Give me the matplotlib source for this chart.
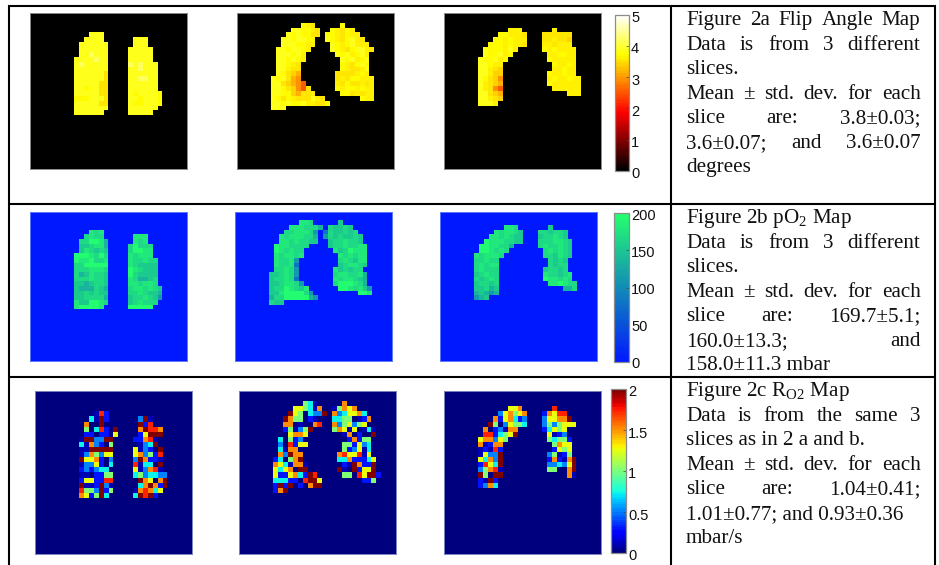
import numpy as np
import matplotlib
matplotlib.use("Agg")
import matplotlib.pyplot as plt
from matplotlib.colors import LinearSegmentedColormap, Normalize
from matplotlib.cm import ScalarMappable
from matplotlib.transforms import ScaledTranslation

plt.rcParams['mathtext.fontset'] = 'custom'
plt.rcParams['mathtext.rm'] = 'Liberation Serif'

# ---------- value codes for each kind of map ----------
FLIP_CODES = {'.': 0, 'w': 4.15, 'Y': 3.9, 'y': 3.72, 'u': 3.62, 's': 3.52, 't': 3.42, 'p': 3.2, 'q': 2.9, 'r': 2.5}
PO2_CODES = {'.': 0, 'h': 195, 'g': 180, 'f': 168, 'e': 155, 'd': 135, 'c': 110, 'b': 80, 'a': 45}
RO2_CODES = {'.': 0, 'd': 0.12, 'b': 0.3, 'a': 0.5, 'c': 0.72, 'g': 1.0, 'y': 1.28, 'o': 1.5, 'r': 1.72, 'm': 1.97}

# ---------- Figure 2a: flip angle maps (rows from top, starting at row 0) ----------
FLIP_1 = ["", "", "", "",
"............YYY",
"...........YYYY......YYY",
"..........YYYYYY.....YYY",
"..........YYYYYY....YYYYY",
"..........YYwYYY....YYYYY",
".........YYYYwYY....YYYYY",
".........YwYYYYY....wYwYYY",
".........YYYYYYY....YYwYYY",
".........YYYYYYs....YYYYYY",
".........YYYYYYs....YYwwYY",
".........YYYYYss....YYYYYY",
".........YYyYYss....YYYYYY",
".........YYYYYss....YyYYYYy",
".........yyyYYYs....YYyYYYy",
".........YYYYYss....YyyYYYy",
".........YYYYYYY....YYYYYY",
".........YYYYYY.....YYYYY"]

FLIP_2 = ["", "",
".............yus.....y",
"...........YYyyus..yusyu",
"..........YyYyyss.yyusyuu",
".........YYyYYyy..YyusyYus",
".........YYYyyuu...YyuyYuuu",
"........YYyYYyu....YyusyYYus",
"........YYYyYu......YyYuyYu",
"........YYyYyu.......YyYuyY",
"........YYyus........yusyYy",
"........YYuss........yussuY",
"........Yystp.......ssssuyu",
".......YyYspq.......susyyuuu",
".......YYstpqr......usyssusu",
".......YYystqrs.....yuyyuyuu",
".......YYyytpssu.....yysusuu",
".......YysyusssYus.......yuu",
".......YYyYyyYuussy",
".......YYY"]

FLIP_3 = ["", "", "",
".............uuu......u",
"...........yyuuus...ssssss",
"..........yyuyuuu...ssusst",
".........yyyuyuus...uusuuu",
"........YyyyuYu.....yuyuuuu",
"........YyyYuy.......uuyyuu",
".......YyyYuy........yuuuuu",
".......YYyuu..........yuuyu",
".......YYust..........uuyuu",
".......YYutt.........yuuyuu",
".......Yystq.........uyuuyuu",
".......Yustp.........yuuuuuu",
".......Yusqr..........uuuuuu",
".......YYstp.............uuu",
".......YYust",
".......YYYu"]

# ---------- Figure 2b: pO2 maps ----------
PO2_1 = ["", "", "", "",
"............gfg",
"...........fgff......ggg",
"..........ffhhgd.....gfg",
"..........eefggd....fhfff",
"..........egfefe....fhhgg",
".........hhhgfhf....gfggg",
".........hgghffg....gffgff",
".........ffhhhhh....gfeeee",
".........fffgggf....hgfeee",
".........fdegffe....hfeeee",
".........fffgffe....gfddef",
".........eedeffe....ggfggf",
".........edddfed....fggfgfe",
".........eefefee....ffgfeed",
".........eeffffd....effgfec",
".........geehhgf....efgfff",
".........ghhhhg.....hhhhh"]

PO2_2 = ["", "",
".............ggf.....e",
"...........gggfffd.feefe",
"..........ffgggfc.bfeefef",
".........gfgggffd.cfefeefe",
".........ggfgffee..effgffe",
"........hggffff....effgffgg",
"........hgfgff......gefhggg",
"........gfggfg.......gfgfgg",
"........gffgc........fgfegg",
"........gffgb........efggfe",
"........ffgfc.......gefeff",
".......eefgfc.......fggffgd",
".......effgfb.......gfggfed",
".......eefggfc......fhhhgfd",
".......effhgfeg......hhgfgec",
".......eeghhhhfc.........hhg",
".......dffhhhhhdc",
".......fee"]

PO2_3 = ["", "", "",
".............ggf......e",
"...........gfggfe...ffeffe",
"..........ggfgfee...effgfe",
".........hgggffee...fffggfe",
"........hhggffd.....fgffgfe",
"........hhgfgf.......fgfgfe",
".......gfgggf........ffegfe",
".......ffgff..........fefe",
".......fgfgg..........feff",
".......fgfff.........effef",
".......efgff.........gffefg",
".......fefgf.........hggfgf",
".......effef..........gghgff",
".......eefde.............ddf",
".......dedcd",
".......cde"]

# ---------- Figure 2c: RO2 maps ----------
RO2_1 = ["", "", "", "",
"............drb",
"...........cdmb......amd",
"..........o..m.......mbr",
"..........g.crb.m....omrro",
"..........bb.bb.y....bymmm",
".........dmmaamm....bbord",
".........cdoab.g.....dacm",
".........ddmmmmm....ydab.m",
".........daogayy....yoagbr",
".........myyob.a....amobbd",
".........daayb.c....rdcc.m",
".........babacc.....ydaord",
".........dd.bbgg....cgaccaa",
".........byybbrr.....moy.om",
".........mddbmad.....comobm",
".........rggambg....dorocy",
".........oybgmc.....cmrmb"]

RO2_2 = ["", "",
".............gcd.....o",
"...........yygcdo..dgoyo",
"..........myg.caam.oacyyoc",
".........mogg.bd...ccgg.dbo",
".........oo.d..or..oagyagy",
".........bgdagm....goydy.dcd",
"..........yooy.......do.b..m",
"........c.gba.........bobgg",
"........a.rbyy.......ggbyac",
"........cdoo.........gbaydc",
"........oamoo.......oryyrdy",
".......bc.gom.......ccobbbcy",
".......oycdood.......bdmobbm",
".......ycyo.mm......md.mbyym",
".......ybbyocbmr.....gg.rymmb",
".......cccbb.rmmy........bbg",
".......bmbm.b.omm",
".......bom"]

RO2_3 = ["", "", "",
".............yyo......r",
"...........ayogyo...boyrr",
"..........obyocba...ayyoom",
".........mg.ayggc...agagyyy",
"........o.badoo.....bcygy",
"........rrbcgym......ydba",
".......yooayg........gcggb",
".......odboo..........goyy",
".......dbdrb..........bygy",
".......dyaam.........agdbg",
".......ycoam.........bobdom",
".......brycm.........aacaym",
".......agord.........gg..om",
".......mg.mm.............od",
".......bdmb",
".......baoc"]

# ---------- colour bars and caption text ----------
FLIP_TICKS = [0, 1, 2, 3, 4, 5]
PO2_TICKS = [0, 50, 100, 150, 200]
RO2_TICKS = [0, 0.5, 1, 1.5, 2]
RO2_TICK_LABELS = ['0', '0.5', '1', '1.5', '2']

CAPTION_A = [("Figure 2a Flip Angle Map", True), ("Data is from 3 different", True), ("slices.", False),
             ("Mean ± std. dev. for each", True), ("slice are: 3.8±0.03;", True),
             ("3.6±0.07; and 3.6±0.07", True), ("degrees", False)]
CAPTION_B = [(r"Figure 2b pO$_{2}$ Map", False), ("Data is from 3 different", True), ("slices.", False),
             ("Mean ± std. dev. for each", True), ("slice are: 169.7±5.1;", True),
             ("160.0±13.3; and", True), ("158.0±11.3 mbar", False)]
CAPTION_C = [(r"Figure 2c R$_{\mathrm{O2}}$ Map", False), ("Data is from the same 3", True),
             ("slices as in 2 a and b.", False), ("Mean ± std. dev. for each", True),
             ("slice are: 1.04±0.41;", True), ("1.01±0.77; and 0.93±0.36", False), ("mbar/s", False)]

W, H = 939, 565
fig = plt.figure(figsize=(W / 100, H / 100), dpi=100, facecolor='white')


def px_axes(x0, y0, x1, y1, **kw):
    return fig.add_axes([x0 / W, 1 - y1 / H, (x1 - x0) / W, (y1 - y0) / H], **kw)


def decode(rows, codes):
    out = np.zeros((32, 32))
    for i, row in enumerate(rows):
        for j, ch in enumerate(row.ljust(32, '.')[:32]):
            out[i, j] = codes.get(ch, 0)
    return out


winter_like = LinearSegmentedColormap.from_list('o2', ['#0018ff', '#24ff6e'], N=64)
hot_black = LinearSegmentedColormap.from_list(
    'hotk', [(0, '#000000'), (0.375, '#ff0000'), (0.75, '#ffff00'), (1, '#ffffff')], N=64)
jet64 = plt.get_cmap('jet', 64)

rows_cfg = [
    dict(slices=[FLIP_1, FLIP_2, FLIP_3], codes=FLIP_CODES, cmap=hot_black, vmax=5,
         xs=[30, 237, 444], y=(13, 169), edge='#8a8a8a', bar=(615, 629, 14.5, 171), ticks=FLIP_TICKS,
         labels=[str(t) for t in FLIP_TICKS], shift=-2),
    dict(slices=[PO2_1, PO2_2, PO2_3], codes=PO2_CODES, cmap=winter_like, vmax=200,
         xs=[29.5, 234.5, 439.5], y=(212, 361), edge='#5a78ff', bar=(614, 629, 213, 362), ticks=PO2_TICKS,
         labels=[str(t) for t in PO2_TICKS], shift=-1),
    dict(slices=[RO2_1, RO2_2, RO2_3], codes=RO2_CODES, cmap=jet64, vmax=2,
         xs=[34.5, 239, 444], y=(391, 553.5), edge='#7a86c0', bar=(611, 626, 389, 553), ticks=RO2_TICKS,
         labels=RO2_TICK_LABELS, shift=-2),
]

for cfg in rows_cfg:
    norm = Normalize(0, cfg['vmax'])
    for x0, rows in zip(cfg['xs'], cfg['slices']):
        ax = px_axes(x0, cfg['y'][0], x0 + 157, cfg['y'][1])
        ax.imshow(decode(rows, cfg['codes']), cmap=cfg['cmap'], norm=norm, aspect='auto', interpolation='nearest')
        ax.set_xticks([])
        ax.set_yticks([])
        for s in ax.spines.values():
            s.set_color(cfg['edge'])
            s.set_linewidth(0.7)
    bx0, bx1, by0, by1 = cfg['bar']
    cax = px_axes(bx0, by0, bx1, by1)
    cb = fig.colorbar(ScalarMappable(norm=norm, cmap=cfg['cmap']), cax=cax)
    cb.set_ticks(cfg['ticks'])
    cb.set_ticklabels(cfg['labels'])
    cb.outline.set_edgecolor('#8c8c8c')
    cb.outline.set_linewidth(0.9)
    cax.tick_params(axis='y', direction='in', length=2, width=0.5, color='#444444', pad=1.5,
                    labelsize=10.5, labelcolor='#111111')
    off = ScaledTranslation(0, cfg['shift'] / 100, fig.dpi_scale_trans)
    for t in cax.get_yticklabels():
        t.set_family('Liberation Sans')
        t.set_transform(t.get_transform() + off)

# overlay in pixel coordinates for the table rules and captions
ov = fig.add_axes([0, 0, 1, 1], facecolor='none')
ov.set_xlim(0, W)
ov.set_ylim(H, 0)
ov.axis('off')
rule = dict(color='black', lw=1.5, solid_capstyle='butt')
ov.plot([9, 9], [5, H], **rule)
ov.plot([934.5, 934.5], [5, H], **rule)
ov.plot([671, 671], [5, H], **rule)
for yy in (6, 204, 376.7):
    ov.plot([8, 935.5], [yy, yy], **rule)

FONT = dict(family='Liberation Serif', fontsize=15.2, color='#111111', va='baseline')
LEFT, RIGHT = 686, 920.5
renderer = fig.canvas.get_renderer()


def draw_caption(lines, base):
    for k, (line, just) in enumerate(lines):
        y = base + k * 24.55
        if not just:
            ov.text(LEFT, y, line, ha='left', **FONT)
            continue
        words = line.split(' ')
        items = [ov.text(LEFT, y, w, ha='left', **FONT) for w in words]
        widths = [t.get_window_extent(renderer).width for t in items]
        gap = (RIGHT - LEFT - sum(widths)) / (len(words) - 1)
        x = LEFT
        for t, w in zip(items, widths):
            t.set_x(x)
            x += w + gap


draw_caption(CAPTION_A, 25)
draw_caption(CAPTION_B, 223)
draw_caption(CAPTION_C, 396)

fig.savefig('out.png', dpi=100, facecolor='white')
